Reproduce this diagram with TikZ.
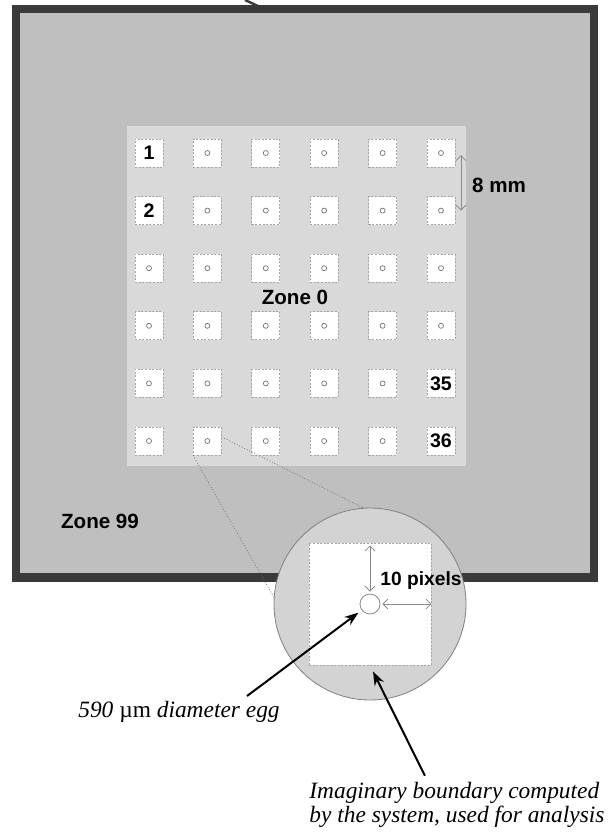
\documentclass[tikz,border=0pt]{standalone}
\usepackage{fontspec}
\setmainfont{Liberation Serif}
\setsansfont{Liberation Sans}
\usetikzlibrary{arrows.meta}
\definecolor{framegray}{HTML}{3A3A3A}
\definecolor{zonefar}{HTML}{BFBFBF}
\definecolor{zonenear}{HTML}{D9D9D9}
\definecolor{lensgray}{HTML}{D3D3D3}
\tikzset{
  cell/.style={draw=black!35, dash pattern=on 1pt off 0.8pt, fill=white,
    minimum size=14pt, inner sep=0pt},
  eggdot/.style={draw=black!55, line width=0.35pt},
  zonelbl/.style={font=\sffamily\bfseries\fontsize{10.3}{12}\selectfont, inner sep=0pt},
  numlbl/.style={font=\sffamily\bfseries\fontsize{9.8}{11}\selectfont, inner sep=0pt},
  dim/.style={draw=black!45, line width=0.4pt,
    {Straight Barb[length=2.5pt,width=5pt]}-{Straight Barb[length=2.5pt,width=5pt]}},
  zoomline/.style={draw=black!55, line width=0.4pt, densely dotted},
  pointer/.style={line width=1pt, -{Stealth[length=7pt,width=5pt]}},
  caption/.style={font=\itshape\fontsize{11.7}{12.2}\selectfont, inner sep=0pt},
}
\begin{document}
\begin{tikzpicture}[x=0.5pt,y=0.5pt]
  \useasboundingbox (0,0) rectangle (609,-837);
  % stub at the top edge
  \draw[framegray, line width=1.2pt] (245,0) -- (258,-6);
  % Zone 99: dark frame and grey field
  \fill[framegray] (12,-5) rectangle (598,-582);
  \fill[zonefar] (20,-13) rectangle (590,-573);
  % Zone 0
  \fill[zonenear] (127,-126) rectangle (466,-466);
  % 6x6 wells, numbered down each column
  \foreach \c in {1,...,6}
    \foreach \r in {1,...,6} {
      \pgfmathtruncatemacro{\n}{(\c-1)*6+\r}
      \node[cell] (s\n) at ({149+58.4*(\c-1)},{-153-57.6*(\r-1)}) {};
    }
  \foreach \n in {3,...,34}
    \draw[eggdot] (s\n) circle (2.5);
  \node[numlbl] (lab1) at (s1) {1};
  \node[numlbl] (lab2) at (s2) {2};
  \node[numlbl] (lab35) at (s35) {35};
  \node[numlbl] (lab36) at (s36) {36};
  % well spacing
  \draw[dim] ([xshift=10pt,yshift=-1pt]s31.center) -- ([xshift=10pt]s32.center);
  \node[zonelbl] (mm) at (499,-185) {8 mm};
  \node[zonelbl] (z0) at (295,-297) {Zone 0};
  \node[zonelbl] (z99) at (100,-521) {Zone 99};
  % magnified well
  \node[circle, draw=black!50, fill=lensgray, minimum size=96pt, inner sep=0pt,
    line width=0.4pt] (lens) at (370,-604) {};
  \draw[zoomline] ([yshift=2pt]s12.east) -- (lens.94);
  \draw[zoomline] (s12.south west) -- (lens.176);
  \node[cell, minimum size=61pt] (bound) at (lens.center) {};
  \node[circle, draw=black!45, minimum size=10pt, inner sep=0pt,
    line width=0.4pt] (egg) at (lens.center) {};
  \draw[dim] ([yshift=-1.5pt]bound.north) -- ([yshift=1pt]egg.north);
  \draw[dim] ([xshift=1pt]egg.east) -- (bound.east);
  \node[numlbl, font=\sffamily\bfseries\fontsize{9.6}{11}\selectfont] (px) at (421,-581) {10 pixels};
  % captions
  \node[caption] (cap1) at (179,-712) {590 {\upshape µm} diameter egg};
  \node[caption, align=left, anchor=west] (cap2) at (309,-805)
    {Imaginary boundary computed\\by the system, used for analysis};
  \draw[pointer, shorten >=2pt] ([shift={(-16.5pt,2.5pt)}]cap1.north east) -- (egg);
  \draw[pointer] ([shift={(-16pt,3pt)}]cap2.north) -- ([shift={(1.5pt,-3pt)}]bound.south);
\end{tikzpicture}
\end{document}
